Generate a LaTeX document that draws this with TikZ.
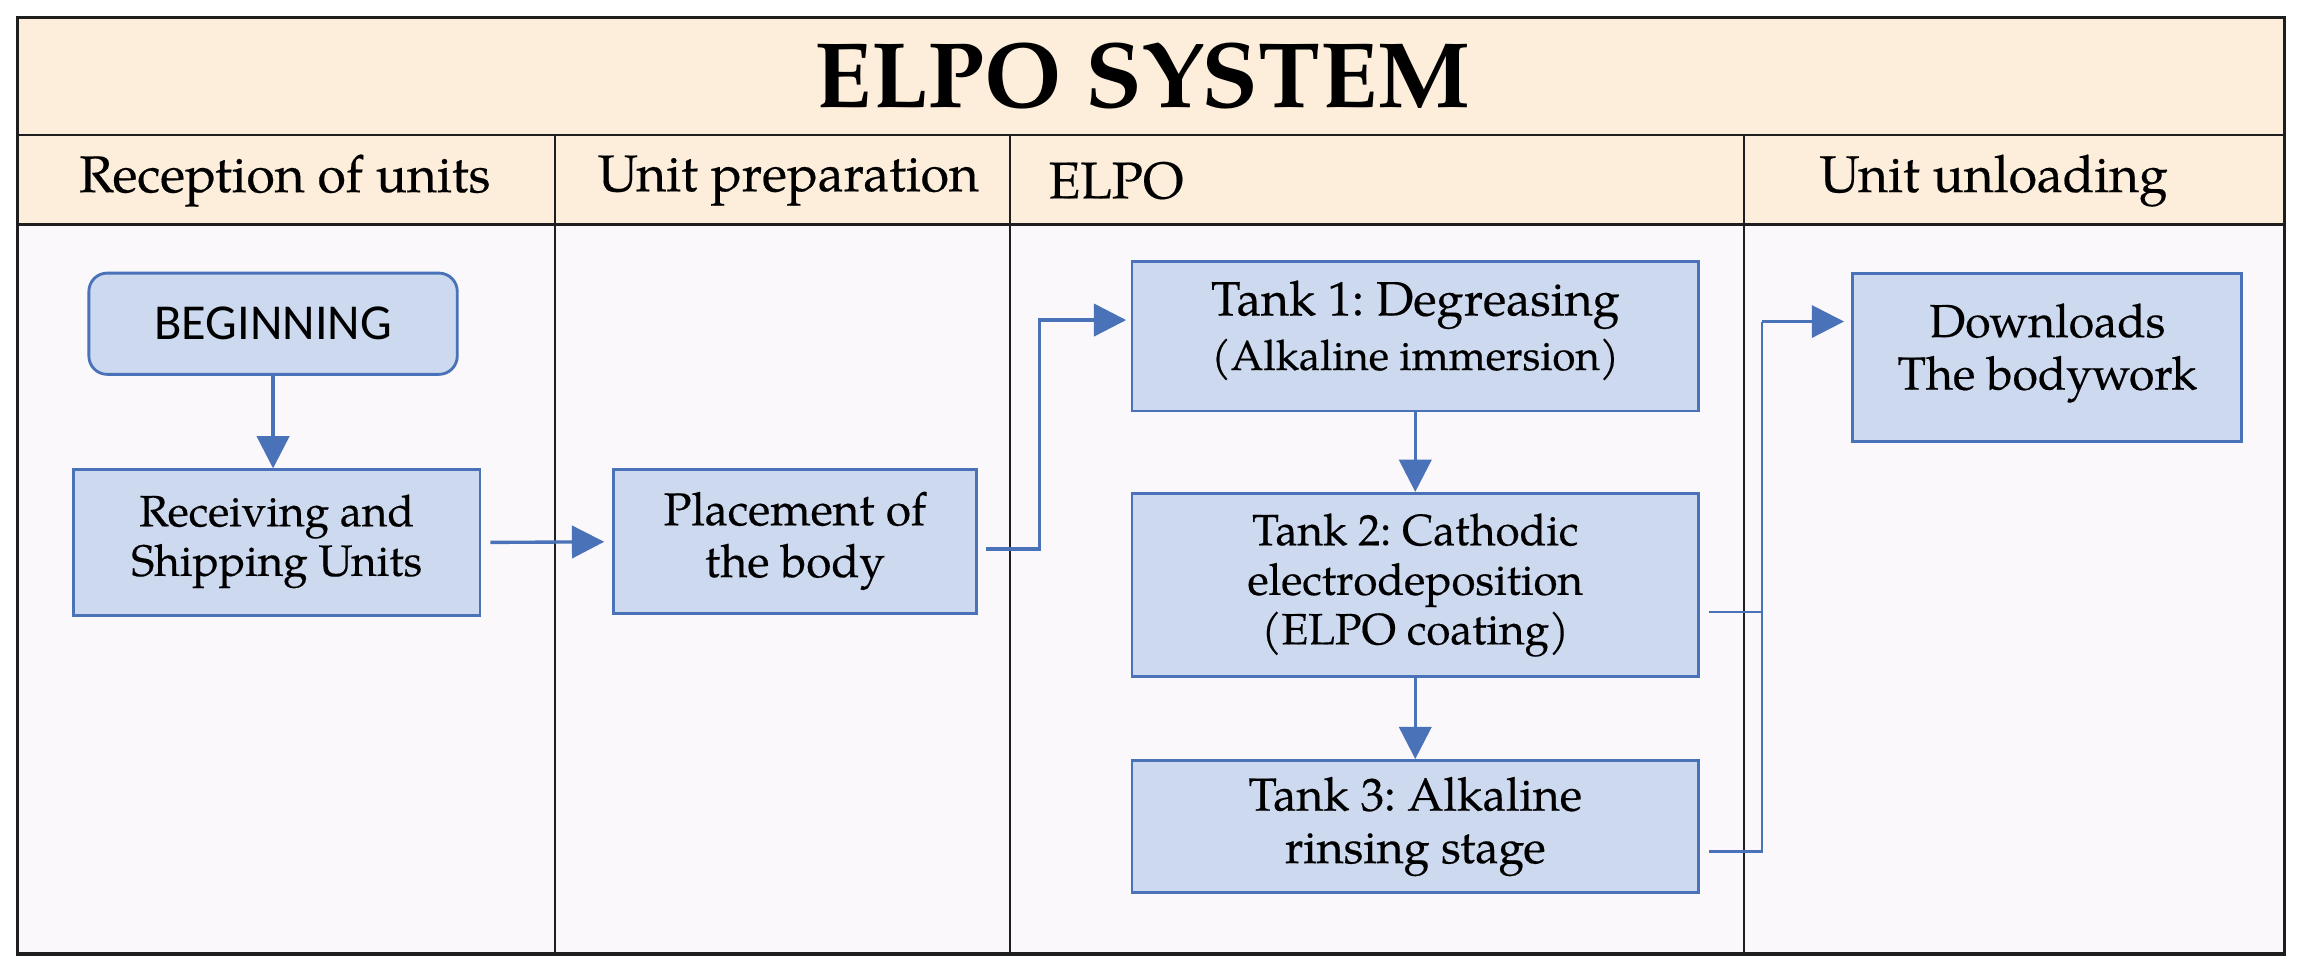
\documentclass[tikz,border=0pt]{standalone}
\usepackage{fontspec}
\setmainfont{texgyrepagella}[Extension=.otf, UprightFont=*-regular, BoldFont=*-bold, ItalicFont=*-italic, BoldItalicFont=*-bolditalic, UprightFeatures={FakeBold=0.35}]
\newfontfamily\beginfont{Carlito}
\usetikzlibrary{arrows.meta,calc}
\definecolor{headfill}{HTML}{FCEEDB}
\definecolor{bodyfill}{HTML}{FAF8FA}
\definecolor{boxfill}{HTML}{CDD9EE}
\definecolor{boxline}{HTML}{4A72B8}
\definecolor{frameline}{HTML}{1E1E1E}
\newcommand{\fs}[1]{\fontsize{#1}{1.13\dimexpr #1pt\relax}\selectfont}
\frenchspacing
\begin{document}
\begin{tikzpicture}[x=0.02cm,y=-0.02cm,
  box/.style={draw=boxline, fill=boxfill, line width=1.1pt, align=center, inner sep=0pt,
    font=\fs{17}},
  flow/.style={draw=boxline, line width=1.3pt, -{Triangle[width=0.44cm,length=0.44cm]}},
  thinlink/.style={draw=boxline, line width=0.9pt},
  head/.style={font=\fs{20}, inner sep=0pt},
  divider/.style={draw=frameline, line width=0.7pt}]
\useasboundingbox (0,0) rectangle (1568,663);
\fill[white] (0,0) rectangle (1568,663);
\fill[headfill] (12,12) rectangle (1556,153);
\fill[bodyfill] (12,153) rectangle (1556,650);
\draw[divider, line width=1pt] (12,92) -- (1556,92);
\draw[divider, line width=1pt] (12,153) -- (1556,153);
\draw[divider] (378,92) -- (378,650);
\draw[divider] (688,92) -- (688,650);
\draw[divider] (1188,92) -- (1188,650);
\draw[draw=frameline, line width=1.4pt] (12,12) rectangle (1556,650);

\node[font=\bfseries\fs{36}, inner sep=0pt] (title) at (778,52) {ELPO SYSTEM};
\node[head] (h1) at (194,123) {Reception of units};
\node[head] (h2) at (537,123) {Unit preparation};
\node[head, anchor=west] (h3) at (714,123) {ELPO};
\node[head] (h4) at (1358,123) {Unit unloading};

\node[box, rounded corners=0.25cm, minimum width=5.02cm, minimum height=1.38cm,
  font=\beginfont\fs{19.5}] (begin) at (186,220.5) {BEGINNING};
\node[box, minimum width=5.54cm, minimum height=1.98cm] (recv) at (188.5,369.5)
  {Receiving and\\Shipping Units\rule[-0.2cm]{0pt}{0pt}};
\node[box, minimum width=4.94cm, minimum height=1.96cm, font=\fs{17.8}] (place) at (541.5,369)
  {Placement of\\the body\rule[-0.2cm]{0pt}{0pt}};
\node[box, minimum width=7.72cm, minimum height=2.04cm, font=\fs{18.7}] (t1) at (964,229)
  {Tank 1: Degreasing\\{\fs{16.3}(Alkaline immersion)}\rule[-0.3cm]{0pt}{0pt}};
\node[box, minimum width=7.72cm, minimum height=2.5cm] (t2) at (964,398.5)
  {Tank 2: Cathodic\\electrodeposition\\(ELPO coating)};
\node[box, minimum width=7.72cm, minimum height=1.8cm, font=\fs{18}] (t3) at (964,563)
  {Tank 3: Alkaline\\rinsing stage};
\node[box, minimum width=5.3cm, minimum height=2.3cm, font=\fs{18}] (down) at (1394.5,243.5)
  {Downloads\\The bodywork\rule[-0.3cm]{0pt}{0pt}};

\coordinate (j1) at (708,369);
\coordinate (trunk) at (1200,0);
\coordinate (placeout) at ([yshift=-0.1cm]place.east);
\coordinate (t1in) at ([yshift=0.22cm]t1.west);
\coordinate (t2out) at ([yshift=-0.37cm]t2.east);
\coordinate (t3out) at ([yshift=-0.34cm]t3.east);
\coordinate (downin) at ([yshift=0.49cm]down.west);

\draw[flow] (begin.south) -- (begin.south |- recv.north);
\draw[flow, shorten <=0.12cm, shorten >=0.11cm] (recv.east) -- (place.west);
\draw[flow, shorten <=0.12cm, shorten >=0.06cm] (placeout) -| (j1 |- t1in) -- (t1in);
\draw[flow] (t1.south) -- (t2.north);
\draw[flow] (t2.south) -- (t3.north);
\draw[thinlink, shorten <=0.12cm] (t2out) -- (trunk |- t2out);
\draw[thinlink, shorten <=0.12cm] (t3out) -| (trunk |- downin);
\draw[flow, line width=1.1pt, shorten >=0.1cm] (trunk |- downin) -- (downin);
\end{tikzpicture}
\end{document}
